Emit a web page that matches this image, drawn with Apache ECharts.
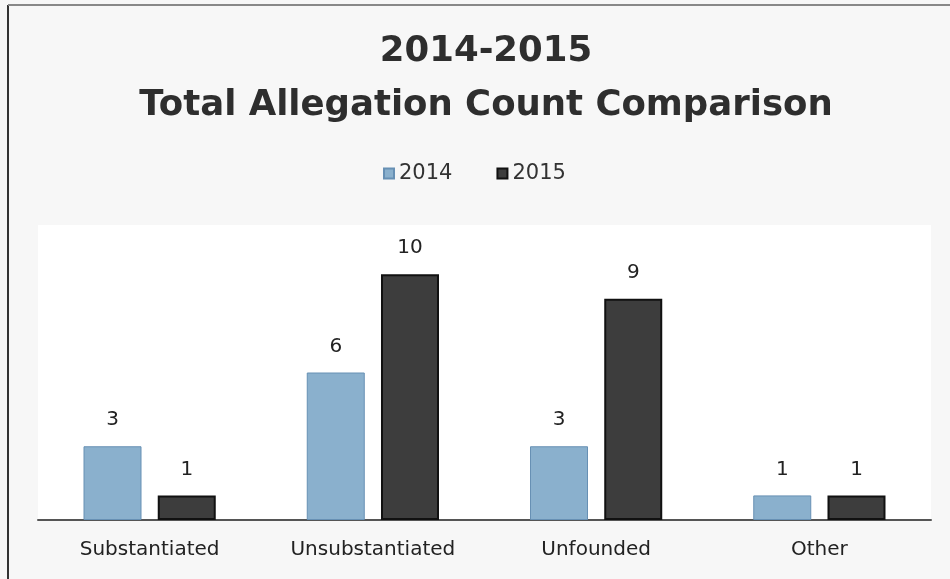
<!DOCTYPE html>
<html>
<head>
<meta charset="utf-8">
<script src="https://cdn.jsdelivr.net/npm/echarts@6/dist/echarts.min.js"></script>
<style>
html,body{margin:0;padding:0;background:#f7f7f7;}
#chart{width:950px;height:579px;}
</style>
</head>
<body>
<div id="chart"></div>
<script>
const categories = ['Substantiated', 'Unsubstantiated', 'Unfounded', 'Other'];
const seriesNames = ['2014', '2015'];
const values2014 = [3, 6, 3, 1];
const values2015 = [1, 10, 9, 1];
const titleText = '2014-2015\nTotal Allegation Count Comparison';

const chart = echarts.init(document.getElementById('chart'));
const labelStyle = {
  show: true, position: 'top', distance: 16,
  fontFamily: 'DejaVu Sans', fontSize: 20, color: '#222'
};
chart.setOption({
  backgroundColor: '#f7f7f7',
  animation: false,
  title: {
    text: titleText,
    left: 481, top: 20,
    textAlign: 'center',
    textStyle: {
      fontFamily: 'DejaVu Sans', fontWeight: 'bold', fontSize: 35.5,
      color: '#2e2e2e', lineHeight: 54
    }
  },
  legend: {
    data: seriesNames,
    top: 158, left: 378,
    icon: 'rect', itemWidth: 10, itemHeight: 10, itemGap: 44,
    textStyle: { fontFamily: 'DejaVu Sans', fontSize: 21, color: '#333' }
  },
  graphic: [
    { type: 'line', shape: { x1: 8, y1: 5, x2: 8, y2: 579 }, style: { stroke: '#333', lineWidth: 2 } },
    { type: 'line', shape: { x1: 8, y1: 5, x2: 950, y2: 5 }, style: { stroke: '#888', lineWidth: 2 } }
  ],
  grid: {
    left: 38, right: 19, top: 225, bottom: 59,
    show: true, backgroundColor: '#ffffff', borderWidth: 0
  },
  xAxis: {
    type: 'category', data: categories,
    axisLine: { lineStyle: { color: '#555', width: 2 } },
    axisTick: { show: false },
    axisLabel: { margin: 20, fontFamily: 'DejaVu Sans', fontSize: 20, color: '#222' }
  },
  yAxis: {
    type: 'value', min: 0, max: 12, interval: 2,
    show: false, splitLine: { show: false }
  },
  series: [
    {
      name: seriesNames[0], type: 'bar', data: values2014,
      barWidth: 58, barGap: '28%',
      itemStyle: { color: '#8ab0cd', borderColor: '#6790b4', borderWidth: 1 },
      label: labelStyle
    },
    {
      name: seriesNames[1], type: 'bar', data: values2015,
      barWidth: 58,
      itemStyle: { color: '#3d3d3d', borderColor: '#111', borderWidth: 2 },
      label: labelStyle
    }
  ]
});
</script>
</body>
</html>
